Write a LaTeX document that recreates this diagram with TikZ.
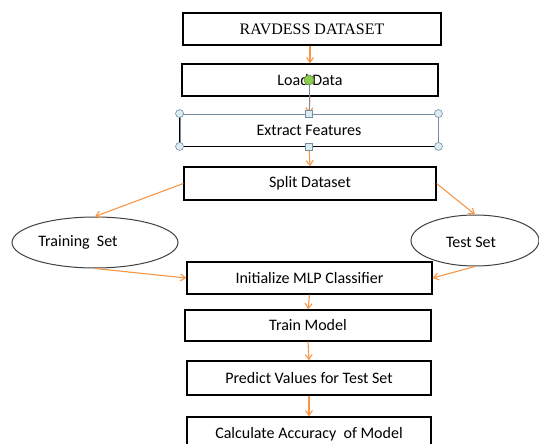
\documentclass[tikz,border=0pt]{standalone}
\usepackage{fontspec}
\setmainfont{Carlito}
\newfontfamily\serifx{Liberation Serif}
\usetikzlibrary{arrows.meta,shapes.geometric}
\definecolor{arrorange}{RGB}{247,150,70}
\definecolor{handlefill}{RGB}{218,236,244}
\definecolor{handleline}{RGB}{120,140,160}
\definecolor{rotgreen}{RGB}{140,205,80}
\tikzset{
  stepbox/.style={draw=black, line width=1.3pt, rectangle, inner sep=0pt, font=\fontsize{16}{19}\selectfont},
  setell/.style={draw=black!75, line width=1pt, ellipse, inner sep=0pt, font=\fontsize{16}{19}\selectfont},
  flow/.style={draw=arrorange, line width=1.1pt, -{Straight Barb[length=5pt,width=7pt]}},
  cornerhandle/.style={circle, draw=handleline, fill=handlefill, line width=0.6pt, minimum size=8pt, inner sep=0pt},
  midhandle/.style={rectangle, draw=handleline, fill=handlefill, line width=0.6pt, minimum size=7pt, inner sep=0pt},
}
\begin{document}
\begin{tikzpicture}[x=1pt,y=-1pt]
\useasboundingbox (0,0) rectangle (539,444);
\node[stepbox, minimum width=258pt, minimum height=32pt, font=\serifx\fontsize{16}{19}\selectfont] (rav) at (312,29) {RAVDESS DATASET};
\node[stepbox, minimum width=256pt, minimum height=32pt] (load) at (310,80) {Load Data};
\node[draw=handleline, line width=0.9pt, rectangle, inner sep=0pt, minimum width=258pt, minimum height=32pt, font=\fontsize{16}{19}\selectfont] (ext) at (309,130) {Extract Features};
\draw[black, line width=1.5pt] (ext.north west) -- (ext.south west) -- (ext.south east);
\node[stepbox, minimum width=252pt, minimum height=33pt] (split) at (310,183.5) {Split Dataset};
\node[setell, minimum width=166pt, minimum height=51pt] (tr) at (95,242.5) {};
\node[font=\fontsize{16}{19}\selectfont] (trtext) at (78,242) {Training\ \ Set};
\node[setell, minimum width=128pt, minimum height=51pt] (te) at (475,240.5) {};
\node[font=\fontsize{16}{19}\selectfont] (tetext) at (471,242) {Test Set};
\node[stepbox, minimum width=245pt, minimum height=32pt] (init) at (309.5,278) {Initialize MLP Classifier};
\node[stepbox, minimum width=246pt, minimum height=31pt] (train) at (308,325.5) {Train Model};
\node[stepbox, minimum width=244pt, minimum height=34pt] (pred) at (309,378) {Predict Values for Test Set};
\node[stepbox, minimum width=244pt, minimum height=34pt] (calc) at (309,434) {Calculate Accuracy\ \ of Model};

\draw[flow] (rav.south -| load.north) -- (load.north);
\draw[flow] (load.south) -- (ext.north);
\draw[flow] (ext.south) -- (split.north);
\draw[flow] (split.west) -- (tr.north);
\draw[flow] (split.east) -- (te.north);
\draw[flow] (tr.south) -- (init.west);
\draw[flow] (te.south) -- (init.east);
\draw[flow] (init.south) -- (train.north);
\draw[flow] (train.south) -- (pred.north);
\draw[flow] (pred.south) -- (calc.north);

% selection handles
\coordinate (rot) at (309,80);
\draw[handleline, line width=1pt] (rot) -- (ext.north);
\node[circle, draw=rotgreen!70!black, fill=rotgreen, line width=0.6pt, minimum size=10pt, inner sep=0pt] (roth) at (rot) {};
\node[cornerhandle] (h1) at (ext.north west) {};
\node[cornerhandle] (h2) at (ext.north east) {};
\node[cornerhandle] (h3) at (ext.south west) {};
\node[cornerhandle] (h4) at (ext.south east) {};
\node[midhandle] (h5) at (ext.north) {};
\node[midhandle] (h6) at (ext.south) {};
\end{tikzpicture}
\end{document}
